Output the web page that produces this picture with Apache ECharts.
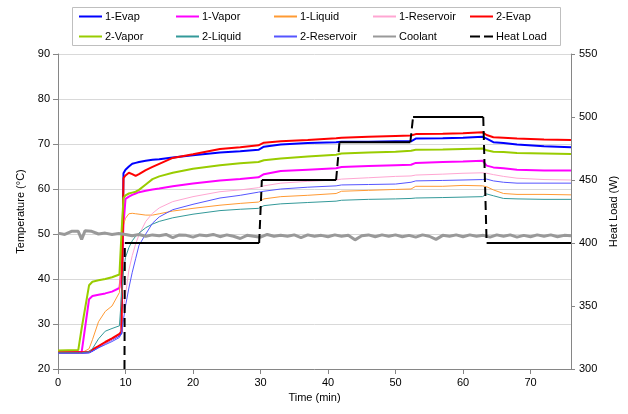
<!DOCTYPE html>
<html>
<head>
<meta charset="utf-8">
<script src="https://cdn.jsdelivr.net/npm/echarts@6/dist/echarts.min.js"></script>
<style>html,body{margin:0;padding:0;background:#fff}#c{width:628px;height:414px}</style>
</head>
<body>
<div id="c"></div>
<script>
// ---- data (time in min, temperature in °C, heat load in W) ----
const timeMin = [0, 3, 3.5, 4.6, 5.1, 6, 7, 8, 9.1, 9.4, 9.7, 10, 10.5, 11, 11.5, 12, 13, 14, 15, 17, 20, 24, 27, 29.7, 30.5, 33, 37, 41.2, 42, 46, 50, 52.3, 53, 57, 60, 62.9, 63.5, 64.5, 66, 68, 72, 76];

const evap1 = [23.6, 23.6, 23.6, 23.7, 24.1, 24.9, 25.8, 26.6, 27.5, 28.0, 63.5, 64.3, 65.0, 65.6, 65.8, 66.0, 66.3, 66.5, 66.6, 67.0, 67.5, 68.1, 68.4, 68.7, 69.4, 69.9, 70.2, 70.4, 70.5, 70.5, 70.6, 70.6, 71.2, 71.3, 71.4, 71.6, 71.2, 70.4, 70.2, 69.9, 69.5, 69.3];
const vapor1 = [23.7, 23.7, 23.7, 35.5, 36.2, 36.5, 36.8, 37.2, 38.0, 42.0, 52.0, 57.8, 58.3, 58.7, 59.0, 59.3, 59.6, 59.9, 60.1, 60.6, 61.2, 61.9, 62.2, 62.6, 63.3, 64.0, 64.3, 64.6, 64.9, 65.1, 65.3, 65.4, 65.8, 66.0, 66.1, 66.3, 65.2, 64.8, 64.6, 64.3, 64.1, 64.1];
const liquid1 = [23.6, 23.6, 23.6, 24.5, 26.5, 30.5, 32.8, 34.0, 37.0, 47.0, 52.0, 53.5, 54.5, 54.6, 54.5, 54.4, 54.2, 54.2, 54.5, 55.1, 55.7, 56.4, 56.8, 57.1, 57.8, 58.3, 58.6, 59.0, 59.5, 59.7, 59.9, 60.0, 60.6, 60.6, 60.8, 60.7, 60.5, 59.8, 59.0, 58.8, 58.8, 58.7];
const reservoir1 = [23.6, 23.6, 23.6, 23.7, 24.1, 24.9, 25.7, 26.5, 27.5, 30.0, 34.0, 36.5, 42.0, 45.2, 47.8, 49.8, 52.8, 54.6, 55.8, 57.2, 58.3, 59.4, 59.8, 60.3, 60.7, 61.3, 61.7, 62.0, 62.2, 62.5, 62.8, 62.9, 63.1, 63.3, 63.5, 63.6, 63.5, 63.2, 62.8, 62.4, 62.1, 62.0];
const evap2 = [23.7, 23.7, 23.7, 23.8, 24.3, 25.1, 26.0, 26.8, 27.8, 28.3, 62.4, 63.0, 63.6, 63.3, 62.9, 63.3, 64.2, 64.9, 65.6, 66.9, 67.7, 68.9, 69.3, 69.7, 70.3, 70.6, 70.9, 71.3, 71.4, 71.6, 71.8, 71.9, 72.2, 72.3, 72.4, 72.6, 72.0, 71.5, 71.4, 71.2, 71.0, 70.9];
const vapor2 = [24.1, 24.2, 29.0, 38.6, 39.4, 39.7, 40.0, 40.4, 41.0, 50.0, 58.0, 58.6, 59.0, 59.2, 59.4, 59.8, 61.0, 62.2, 62.8, 63.6, 64.5, 65.3, 65.7, 66.0, 66.4, 66.8, 67.2, 67.6, 67.9, 68.1, 68.3, 68.5, 68.7, 68.8, 68.9, 69.0, 68.6, 68.3, 68.2, 68.0, 67.9, 67.8];
const liquid2 = [23.6, 23.6, 23.6, 23.8, 24.5, 26.7, 28.4, 29.0, 29.6, 36.0, 42.0, 44.8, 47.0, 48.5, 49.5, 50.2, 51.4, 52.2, 52.8, 53.6, 54.4, 55.2, 55.5, 55.7, 56.3, 56.7, 57.0, 57.3, 57.5, 57.7, 57.8, 57.9, 58.0, 58.1, 58.2, 58.3, 58.9, 58.5, 57.9, 57.8, 57.7, 57.7];
const reservoir2 = [23.5, 23.5, 23.5, 23.6, 24.0, 24.7, 25.4, 26.1, 27.0, 28.0, 31.0, 34.0, 38.0, 41.5, 44.5, 47.5, 50.0, 52.4, 53.8, 55.4, 56.6, 58.0, 58.6, 59.3, 59.5, 60.0, 60.4, 60.7, 60.9, 61.0, 61.1, 61.5, 61.8, 61.9, 62.0, 62.1, 62.2, 61.8, 61.5, 61.3, 61.3, 61.3];

const coolantTime = [0, 1, 2, 3, 3.5, 4, 5, 6, 7, 8, 9, 10, 11, 12, 13, 14, 15, 16, 17, 18, 19, 20, 21, 22, 23, 24, 25, 26, 27, 28, 29, 30, 31, 32, 33, 34, 35, 36, 37, 38, 39, 40, 41, 42, 43, 44, 45, 46, 47, 48, 49, 50, 51, 52, 53, 54, 55, 56, 57, 58, 59, 60, 61, 62, 63, 64, 65, 66, 67, 68, 69, 70, 71, 72, 73, 74, 75, 76];
const coolant = [50.2, 49.9, 50.6, 50.6, 48.8, 50.7, 50.6, 50.0, 50.2, 49.9, 50.1, 49.9, 49.6, 49.9, 49.5, 49.8, 49.6, 49.9, 49.2, 49.8, 49.7, 49.3, 49.8, 49.6, 49.9, 49.4, 49.8, 49.5, 49.0, 49.7, 49.5, 49.3, 49.9, 49.5, 49.7, 49.5, 49.8, 49.2, 49.8, 49.5, 49.7, 49.4, 49.8, 49.5, 49.7, 48.7, 49.6, 49.8, 49.4, 49.8, 49.5, 49.8, 49.4, 49.7, 49.3, 49.8, 49.5, 48.8, 49.7, 49.5, 49.8, 49.4, 49.8, 49.5, 49.7, 49.3, 49.8, 49.5, 49.8, 49.3, 49.7, 49.4, 49.8, 49.5, 49.8, 49.4, 49.7, 49.6];

const heatTime = [0, 9.7, 9.9, 29.8, 30.2, 41.2, 41.7, 52.2, 52.6, 63.0, 63.5, 76];
const heatLoad = [0, 0, 400, 400, 450, 450, 480, 480, 500, 500, 400, 400];

const xTicks = {min: 0, max: 76, interval: 10};
const yTicks = {min: 20, max: 90, interval: 10};
const y2Ticks = {min: 300, max: 550, interval: 50};

// ---- build ----
const FONT = 'Liberation Sans, Arial, sans-serif';
const pair = (ts, vs) => ts.map((t, i) => [t, vs[i]]);

// horizontal (solid) and vertical (dashed) parts of heat load
const heatSolid = [], heatDash = [];
for (let i = 0; i < heatTime.length; i++) {
  heatSolid.push([heatTime[i], heatLoad[i]]);
  if (i < heatTime.length - 1 && heatLoad[i + 1] !== heatLoad[i]) {
    heatSolid.push([heatTime[i], '-']);
    heatDash.push([heatTime[i], heatLoad[i]], [heatTime[i + 1], heatLoad[i + 1]], [heatTime[i + 1], '-']);
  }
}

function temp(name, vals, color, width, ts) {
  return {
    name, type: 'line', data: pair(ts || timeMin, vals), symbol: 'none', showSymbol: false,
    lineStyle: {color, width}, itemStyle: {color}, emphasis: {disabled: true}, z: 2
  };
}

const series = [
  temp('1-Evap', evap1, '#0000ff', 2),
  temp('1-Vapor', vapor1, '#ff00ff', 2),
  temp('1-Liquid', liquid1, '#ff9a33', 1),
  temp('1-Reservoir', reservoir1, '#ffa6d2', 1),
  temp('2-Evap', evap2, '#ff0000', 2),
  temp('2-Vapor', vapor2, '#99cc00', 2),
  temp('2-Liquid', liquid2, '#339999', 1),
  temp('2-Reservoir', reservoir2, '#5555ff', 1),
  temp('Coolant', coolant, '#999999', 3, coolantTime),
  {
    name: 'Heat Load', type: 'line', yAxisIndex: 1, data: heatDash, symbol: 'none', showSymbol: false,
    connectNulls: false, lineStyle: {color: '#000', width: 2, type: [9, 5]}, itemStyle: {color: '#000'},
    emphasis: {disabled: true}, z: 3
  },
  {
    name: 'Heat Load', type: 'line', yAxisIndex: 1, data: heatSolid, symbol: 'none', showSymbol: false,
    connectNulls: false, lineStyle: {color: '#000', width: 2}, itemStyle: {color: '#000'},
    emphasis: {disabled: true}, z: 3
  }
];

const legendCols = [
  ['1-Evap', '2-Vapor'], ['1-Vapor', '2-Liquid'], ['1-Liquid', '2-Reservoir'],
  ['1-Reservoir', 'Coolant'], ['2-Evap', 'Heat Load']
];
const legendLeft = [78, 175, 273, 372, 469];
const legends = legendCols.map((d, i) => ({
  data: d.map(n => n === 'Heat Load' ? {name: n, lineStyle: {type: [10, 4]}} : {name: n}),
  orient: 'vertical', left: legendLeft[i], top: 11, padding: 0,
  itemWidth: 23, itemHeight: 12, itemGap: 9, selectedMode: false,
  itemStyle: {opacity: 0, borderWidth: 0},
  textStyle: {fontFamily: FONT, fontSize: 11, color: '#000', padding: [0, 0, 0, -2]}
}));

const axisLabel = {fontFamily: FONT, fontSize: 11, color: '#000'};
const axisLine = {show: true, lineStyle: {color: '#868686', width: 1}};

const chart = echarts.init(document.getElementById('c'), null, {renderer: 'canvas'});
chart.setOption({
  animation: false,
  backgroundColor: '#fff',
  grid: {left: 58, right: 57, top: 54, bottom: 45, containLabel: false},
  legend: legends,
  graphic: [{type: 'rect', shape: {x: 72.5, y: 7.5, width: 488, height: 38}, style: {fill: 'none', stroke: '#bfbfbf', lineWidth: 1}, z: -1}],
  xAxis: {
    type: 'value', min: xTicks.min, max: xTicks.max, interval: xTicks.interval,
    name: 'Time (min)', nameLocation: 'middle', nameGap: 23,
    nameTextStyle: {fontFamily: FONT, fontSize: 11, color: '#000'},
    axisLine, axisTick: {show: true, length: 5, lineStyle: {color: '#868686'}},
    axisLabel: Object.assign({margin: 8, showMaxLabel: false}, axisLabel),
    splitLine: {show: false}
  },
  yAxis: [{
    type: 'value', min: yTicks.min, max: yTicks.max, interval: yTicks.interval,
    name: 'Temperature (°C)', nameLocation: 'middle', nameGap: 27, nameRotate: 90,
    nameTextStyle: {fontFamily: FONT, fontSize: 11, color: '#000'},
    axisLine, axisTick: {show: true, length: 5, lineStyle: {color: '#868686'}},
    axisLabel: Object.assign({margin: 8}, axisLabel),
    splitLine: {show: true, lineStyle: {color: '#d9d9d9', width: 1}}
  }, {
    type: 'value', position: 'right', min: y2Ticks.min, max: y2Ticks.max, interval: y2Ticks.interval,
    name: 'Heat Load (W)', nameLocation: 'middle', nameGap: 26, nameRotate: 90,
    nameTextStyle: {fontFamily: FONT, fontSize: 11, color: '#000'},
    axisLine, axisTick: {show: true, length: 4, lineStyle: {color: '#868686'}},
    axisLabel: Object.assign({margin: 8}, axisLabel),
    splitLine: {show: false}
  }],
  series
});
</script>
</body>
</html>
